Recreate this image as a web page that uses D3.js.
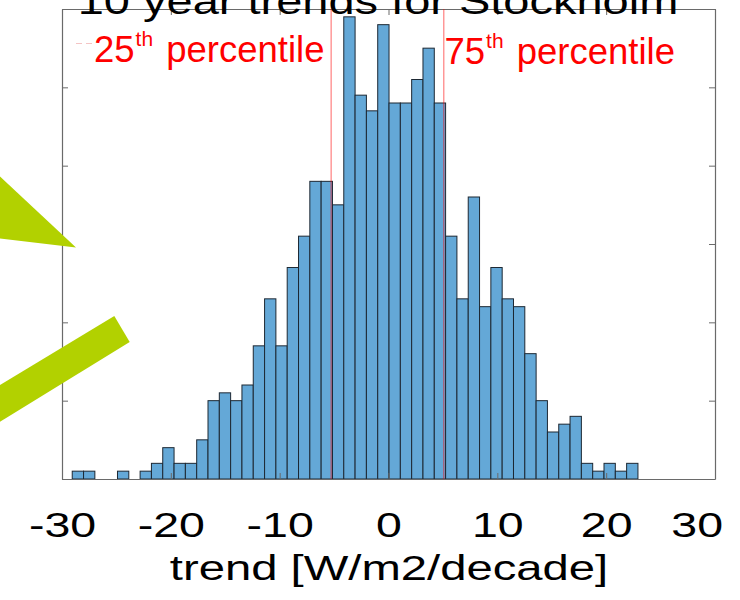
<!DOCTYPE html>
<html>
<head>
<meta charset="utf-8">
<script src="https://cdn.jsdelivr.net/npm/d3@7"></script>
<style>
  html, body { margin: 0; padding: 0; background: #fff; }
  svg { display: block; }
  text { font-family: "Liberation Sans", Arial, Helvetica, sans-serif; }
</style>
</head>
<body>
<svg id="chart" width="740" height="600"></svg>
<script>
// ---- data ----
const titleText = "10 year trends for Stockholm";
const xLabelText = "trend [W/m2/decade]";
const binStart = -29.06;
const binWidth = 1.0396;
const counts = [1, 1, 0, 0, 1, 0, 1, 2, 4, 2,
                2, 5, 10, 11, 10, 12, 17, 23, 17, 27,
                31, 38, 38, 35, 59, 49, 47, 58, 48, 48,
                51, 55, 48, 31, 23, 36, 22, 27, 23, 22,
                16, 10, 6, 7, 8, 2, 1, 2, 1, 2];
const xTicks = [-30, -20, -10, 0, 10, 20, 30];
const yTicks = [0, 10, 20, 30, 40, 50, 60];
const percentileValues = [-5.27, 5.08];
const percentileNames = ["25", "75"];

// ---- layout ----
const svg = d3.select("#chart");
const pLeft = 62, pRight = 715, pTop = 9, pBottom = 479;
const x = d3.scaleLinear().domain([-30, 30]).range([pLeft, pRight]);
const y = d3.scaleLinear().domain([0, 60]).range([pBottom, pTop]);
const axisColor = "#6a6a6a";

const bins = counts.map((c, i) => ({
  x0: binStart + i * binWidth,
  x1: binStart + (i + 1) * binWidth,
  c: c
}));

// bars
svg.append("g").selectAll("rect").data(bins).join("rect")
  .attr("x", d => x(d.x0))
  .attr("y", d => y(d.c))
  .attr("width", d => x(d.x1) - x(d.x0))
  .attr("height", d => y(0) - y(d.c))
  .attr("fill", "#64a8d7")
  .attr("stroke", "#1d2833")
  .attr("stroke-width", 1);

// axes (box with inward ticks)
function styleAxis(g) {
  g.selectAll(".domain").attr("stroke", axisColor).attr("stroke-width", 1.2);
  g.selectAll(".tick line").attr("stroke", axisColor).attr("stroke-width", 1);
}
const gB = svg.append("g").attr("transform", `translate(0,${pBottom})`)
  .call(d3.axisBottom(x).tickValues(xTicks).tickSizeInner(-6).tickSizeOuter(0)
        .tickFormat(d3.format("d")));
styleAxis(gB);
gB.selectAll(".tick text")
  .attr("y", 58).attr("dy", 0)
  .attr("fill", "#000")
  .attr("font-size", 35.5)
  .attr("font-family", "Liberation Sans, Arial, sans-serif")
  .attr("transform", "scale(1.31,1)")
  .text(d => (d < 0 ? "-" + Math.abs(d) : String(d)));
gB.selectAll(".tick text").filter(d => d === 30).attr("dx", -14);

const gT = svg.append("g").attr("transform", `translate(0,${pTop})`)
  .call(d3.axisTop(x).tickValues(xTicks).tickSizeInner(-6).tickSizeOuter(0).tickFormat(""));
styleAxis(gT);
const gL = svg.append("g").attr("transform", `translate(${pLeft},0)`)
  .call(d3.axisLeft(y).tickValues(yTicks).tickSizeInner(-6).tickSizeOuter(0).tickFormat(""));
styleAxis(gL);
const gR = svg.append("g").attr("transform", `translate(${pRight},0)`)
  .call(d3.axisRight(y).tickValues(yTicks).tickSizeInner(-6).tickSizeOuter(0).tickFormat(""));
styleAxis(gR);

// percentile lines
svg.append("g").selectAll("line").data(percentileValues).join("line")
  .attr("x1", d => x(d)).attr("x2", d => x(d))
  .attr("y1", y(60)).attr("y2", y(0))
  .attr("stroke", "#ff0000").attr("stroke-opacity", 0.5).attr("stroke-width", 1.2);

// title (clipped at top, as in the reference)
svg.append("text")
  .attr("transform", `translate(378,13.5) scale(1.27,1)`)
  .attr("text-anchor", "middle")
  .attr("font-size", 37)
  .attr("fill", "#000")
  .text(titleText);

// x label
svg.append("text")
  .attr("transform", `translate(389,580) scale(1.35,1)`)
  .attr("text-anchor", "middle")
  .attr("font-size", 35)
  .attr("fill", "#000")
  .text(xLabelText);

// percentile annotations
const annPos = [{x: 94, y: 62}, {x: 444.5, y: 63.5}];
percentileNames.forEach((n, i) => {
  const t = svg.append("text")
    .attr("x", annPos[i].x).attr("y", annPos[i].y)
    .attr("font-size", 36.5).attr("fill", "#ff0000");
  t.append("tspan").text(n);
  t.append("tspan").attr("dx", 1).attr("dy", -16).attr("font-size", 21).text("th");
  t.append("tspan").attr("dx", 3).attr("dy", 16).text(" percentile");
});

// faint dash near the left label
svg.append("line")
  .attr("x1", 76).attr("x2", 93).attr("y1", 43.5).attr("y2", 43.5)
  .attr("stroke", "#f4c4c4").attr("stroke-width", 1).attr("stroke-dasharray", "6,4");

// green arrow overlays
const green = "#b2d100";
svg.append("polygon")
  .attr("points", "0,176.5 76,247.5 0,238.5")
  .attr("fill", green);
svg.append("polygon")
  .attr("points", "114.3,316 129.7,342 0,421.7 0,385")
  .attr("fill", green);
</script>
</body>
</html>
